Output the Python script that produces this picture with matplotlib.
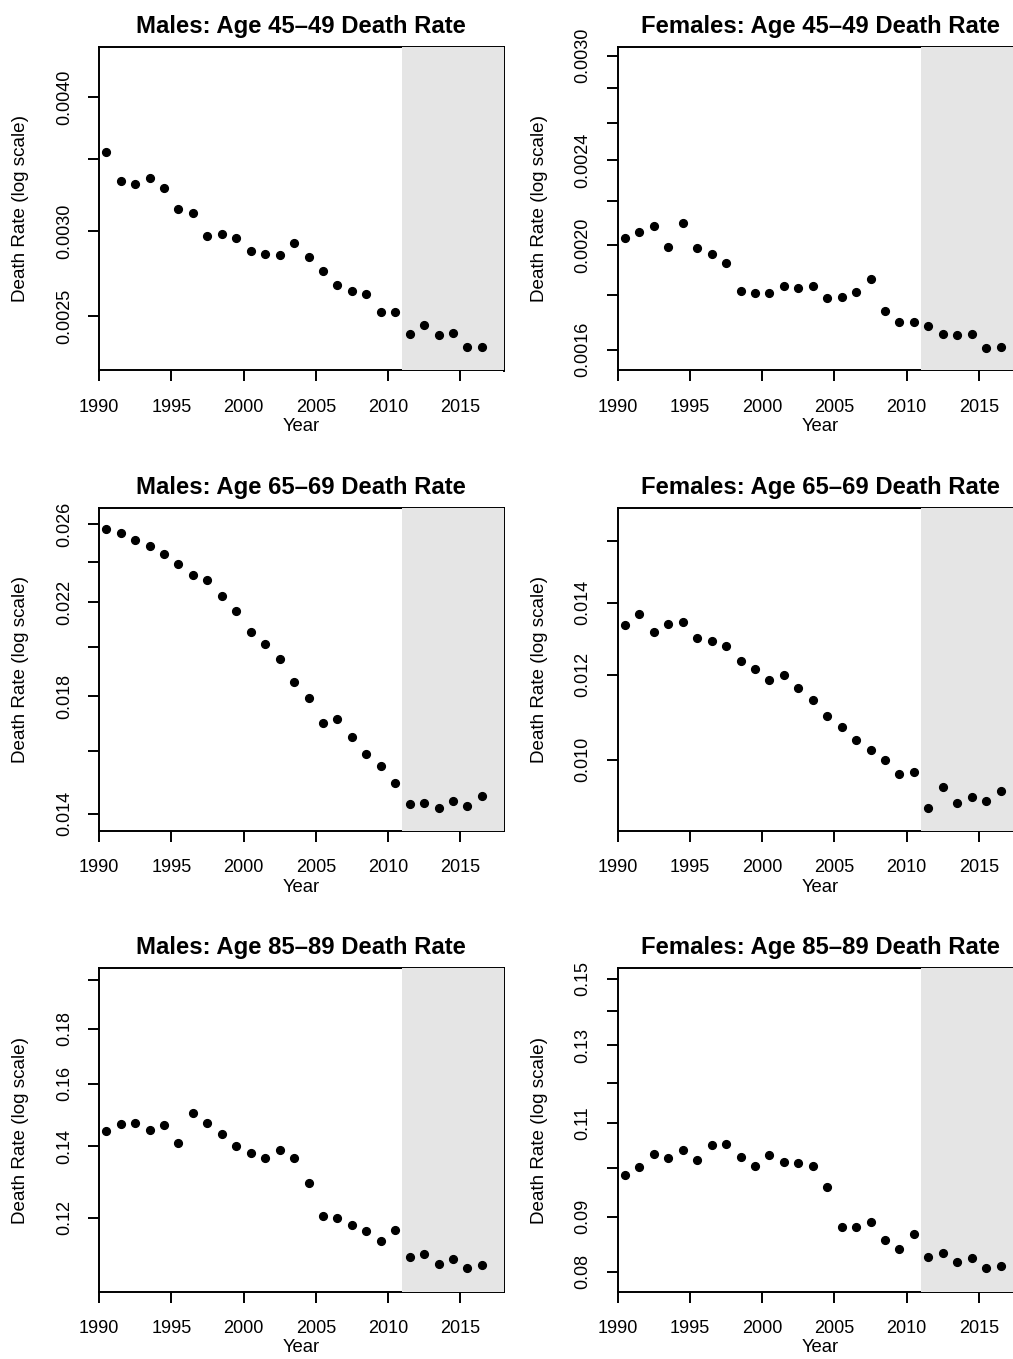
import numpy as np
import matplotlib
matplotlib.use("Agg")
import matplotlib.pyplot as plt
from matplotlib.patches import Rectangle

plt.rcParams['font.family'] = ['Liberation Sans', 'DejaVu Sans']

years = np.arange(1990, 2017) + 0.5
forecast_start = 2011
x_range = (1990, 2018)

male_45 = [0.003557, 0.003338, 0.003320, 0.003366, 0.003290, 0.003147, 0.003118,
           0.002970, 0.002985, 0.002960, 0.002878, 0.002860, 0.002854, 0.002926,
           0.002837, 0.002753, 0.002672, 0.002638, 0.002622, 0.002525, 0.002523,
           0.002407, 0.002452, 0.002401, 0.002410, 0.002339, 0.002341]
female_45 = [0.002032, 0.002059, 0.002085, 0.001993, 0.002098, 0.001988, 0.001963,
             0.001927, 0.001812, 0.001807, 0.001804, 0.001833, 0.001824, 0.001834,
             0.001785, 0.001792, 0.001808, 0.001862, 0.001736, 0.001698, 0.001699,
             0.001684, 0.001655, 0.001649, 0.001655, 0.001607, 0.001608]
male_65 = [0.02572, 0.02554, 0.02512, 0.02480, 0.02440, 0.02387, 0.02331,
           0.02309, 0.02228, 0.02161, 0.02066, 0.02014, 0.01947, 0.01855,
           0.01793, 0.01701, 0.01714, 0.01649, 0.01591, 0.01550, 0.01494,
           0.01430, 0.01433, 0.01416, 0.01438, 0.01424, 0.01453]
female_65 = [0.013345, 0.013654, 0.013156, 0.013383, 0.013431, 0.012979, 0.012905,
             0.012767, 0.012345, 0.012153, 0.011861, 0.011981, 0.011660, 0.011364,
             0.010973, 0.010718, 0.010430, 0.010209, 0.010000, 0.009691, 0.009732,
             0.009022, 0.009431, 0.009107, 0.009231, 0.009152, 0.009344]
male_85 = [0.14458, 0.14676, 0.14697, 0.14489, 0.14644, 0.14080, 0.15037,
           0.14697, 0.14375, 0.13990, 0.13782, 0.13636, 0.13871, 0.13655,
           0.12924, 0.12043, 0.12009, 0.11821, 0.11662, 0.11423, 0.11688,
           0.11023, 0.11094, 0.10874, 0.10983, 0.10766, 0.10851]
female_85 = [0.09851, 0.10021, 0.10304, 0.10209, 0.10378, 0.10166, 0.10505,
             0.10527, 0.10238, 0.10036, 0.10282, 0.10129, 0.10100, 0.10029,
             0.09588, 0.08800, 0.08813, 0.08895, 0.08565, 0.08401, 0.08676,
             0.08253, 0.08336, 0.08171, 0.08241, 0.08061, 0.08101]

titles = ["Males: Age 45\u201349 Death Rate", "Females: Age 45\u201349 Death Rate",
          "Males: Age 65\u201369 Death Rate", "Females: Age 65\u201369 Death Rate",
          "Males: Age 85\u201389 Death Rate", "Females: Age 85\u201389 Death Rate"]
series = [male_45, female_45, male_65, female_65, male_85, female_85]
ylims = [(0.002226, 0.004453), (0.00153, 0.003056), (0.01348, 0.02694),
         (0.008576, 0.01717), (0.1024, 0.2050), (0.07663, 0.15335)]
yticks = [[0.0025, 0.0030, 0.0035, 0.0040],
          [0.0016, 0.0018, 0.0020, 0.0022, 0.0024, 0.0026, 0.0028, 0.0030],
          [0.014, 0.016, 0.018, 0.020, 0.022, 0.024, 0.026],
          [0.010, 0.012, 0.014, 0.016],
          [0.12, 0.14, 0.16, 0.18, 0.20],
          [0.08, 0.09, 0.10, 0.11, 0.12, 0.13, 0.14, 0.15]]
ytick_labels = [['0.0025', '0.0030', '', '0.0040'],
                ['0.0016', '', '0.0020', '', '0.0024', '', '', '0.0030'],
                ['0.014', '', '0.018', '', '0.022', '', '0.026'],
                ['0.010', '0.012', '0.014', ''],
                ['0.12', '0.14', '0.16', '0.18', ''],
                ['0.08', '0.09', '', '0.11', '', '0.13', '', '0.15']]
xticks = [1990, 1995, 2000, 2005, 2010, 2015]

W, H = 1013, 1359
fig = plt.figure(figsize=(W / 100, H / 100), dpi=100)

col_left = [99, 617.7]
row_top = [47, 507.7, 968.3]
ax_w, ax_h = 404.6, 323.5

for i in range(6):
    r, c = divmod(i, 2)
    ax = fig.add_axes([col_left[c] / W, 1 - (row_top[r] + ax_h) / H, ax_w / W, ax_h / H])
    ax.set_yscale('log')
    ax.set_xlim(*x_range)
    ax.set_ylim(*ylims[i])
    ax.plot(years, series[i], 'o', color='black', markersize=5.6, zorder=5, clip_on=False)
    # shaded forecast period, drawn over the inner half of the frame
    shade = Rectangle((forecast_start, ylims[i][0]), x_range[1] - forecast_start,
                      ylims[i][1] - ylims[i][0], facecolor='#e5e5e5', edgecolor='none',
                      zorder=3)
    ax.add_patch(shade)
    for s in ax.spines.values():
        s.set_linewidth(1.4)
        s.set_zorder(2.5)
    ax.yaxis.set_minor_locator(matplotlib.ticker.NullLocator())
    ax.set_yticks(yticks[i])
    ax.set_yticklabels(ytick_labels[i], rotation=90, va='center')
    ax.set_xticks(xticks)
    ax.set_xticklabels([str(x) for x in xticks])
    ax.tick_params(axis='both', length=7.7, width=1.4, labelsize=13, direction='out')
    ax.tick_params(axis='x', pad=12.5)
    ax.tick_params(axis='y', pad=11)
    ax.tick_params(axis='y', right=False)
    ax.text(0.5, 1 + 14 / ax_h, titles[i], transform=ax.transAxes, ha='center',
            va='baseline', fontsize=17.2, fontweight='bold')
    ax.text(0.5, -56 / ax_h, "Year", transform=ax.transAxes, ha='center', va='center',
            fontsize=13.3)
    ax.text(-78 / ax_w, 0.5, "Death Rate (log scale)", transform=ax.transAxes,
            ha='center', va='center', rotation=90, fontsize=13.6)

fig.savefig("out.png", dpi=100)
